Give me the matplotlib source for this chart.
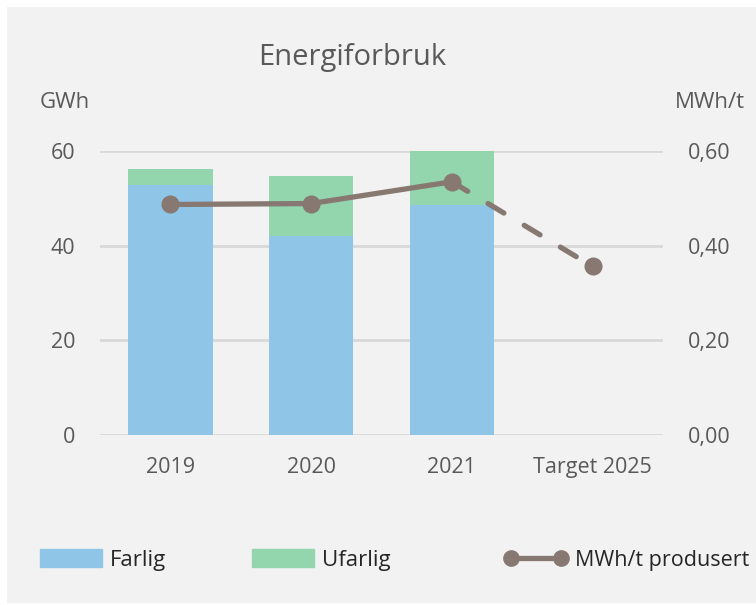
import matplotlib.pyplot as plt
from matplotlib.patches import Rectangle, Patch
from matplotlib.lines import Line2D
from matplotlib.ticker import FuncFormatter

plt.rcParams['font.family'] = ['Open Sans', 'DejaVu Sans']

# data
years = ["2019", "2020", "2021", "Target 2025"]
farlig = [52.8, 42.0, 48.5]
ufarlig = [3.5, 12.7, 11.5]
mwh_per_t = [0.487, 0.489, 0.535, 0.356]

c_farlig = "#8fc6e8"
c_ufarlig = "#93d5ad"
c_line = "#877872"
c_text = "#595959"
c_grid = "#d9d9d9"
c_bg = "#f2f2f2"

fig = plt.figure(figsize=(7.56, 6.05), dpi=100)
fig.patch.set_facecolor("white")
fig.patches.append(Rectangle((7/756, 2/605), 749/756, 596/605, transform=fig.transFigure,
                             facecolor=c_bg, edgecolor="none", zorder=-10))

ax = fig.add_axes([100/756, 1 - 435/605, 563/756, 284/605])
ax.set_facecolor("none")
x = list(range(len(years)))
nb = len(farlig)
ax.bar(x[:nb], farlig, width=0.6, color=c_farlig, zorder=2)
ax.bar(x[:nb], ufarlig, width=0.6, bottom=farlig, color=c_ufarlig, zorder=2)
ax.set_xlim(-0.5, 3.5)
ax.set_ylim(0, 60)
ax.set_yticks([0, 20, 40, 60])
ax.set_xticks(x)
ax.set_xticklabels(years)
ax.grid(axis="y", color=c_grid, linewidth=2, zorder=1)
ax.set_axisbelow(True)
for s in ax.spines.values():
    s.set_visible(False)
ax.tick_params(length=0, labelsize=15.5, colors=c_text)
ax.tick_params(axis="y", pad=18)
ax.tick_params(axis="x", pad=16)

ax2 = ax.twinx()
ax2.set_ylim(0, 0.6)
ax2.set_yticks([0, 0.2, 0.4, 0.6])
ax2.yaxis.set_major_formatter(FuncFormatter(lambda v, p: f"{v:.2f}".replace(".", ",")))
for s in ax2.spines.values():
    s.set_visible(False)
ax2.tick_params(length=0, labelsize=15.5, colors=c_text, pad=18)

ax2.plot(x[:nb], mwh_per_t[:nb], color=c_line, linewidth=3.8, marker="o",
         markersize=12, solid_capstyle="round", zorder=4, clip_on=False)
ax2.plot(x[nb - 1:], mwh_per_t[nb - 1:], color=c_line, linewidth=3.8,
         linestyle=(0, (3.5, 4.5)), dash_capstyle="round", zorder=4, clip_on=False)
ax2.plot(x[-1:], mwh_per_t[-1:], color=c_line, marker="o", markersize=12,
         linestyle="none", zorder=4, clip_on=False)

fig.text(352/756, 1 - 58/605, "Energiforbruk", ha="center", va="center",
         fontsize=21, color=c_text)
fig.text(40/756, 1 - 103/605, "GWh", ha="left", va="center", fontsize=16, color=c_text)
fig.text(745/756, 1 - 103/605, "MWh/t", ha="right", va="center", fontsize=16, color=c_text)

leg_kw = dict(frameon=False, labelcolor="#262626", handleheight=0.85,
              borderaxespad=0, borderpad=0)
l1 = fig.legend([Patch(color=c_farlig)], ["Farlig"], loc="center left",
                bbox_to_anchor=(40/756, 1 - 560/605), handlelength=2.8,
                handletextpad=0.35, fontsize=16, **leg_kw)
l2 = fig.legend([Patch(color=c_ufarlig)], ["Ufarlig"], loc="center left",
                bbox_to_anchor=(252/756, 1 - 560/605), handlelength=2.8,
                handletextpad=0.35, fontsize=16, **leg_kw)
l3 = fig.legend([Line2D([], [], color=c_line, linewidth=3.8, marker="o", markersize=11)],
                ["MWh/t produsert"], loc="center left", numpoints=2,
                bbox_to_anchor=(505/756, 1 - 560/605), handlelength=2.9,
                handletextpad=0.35, fontsize=15.5, **leg_kw)

fig.savefig("out.png", dpi=100, facecolor=fig.get_facecolor())
